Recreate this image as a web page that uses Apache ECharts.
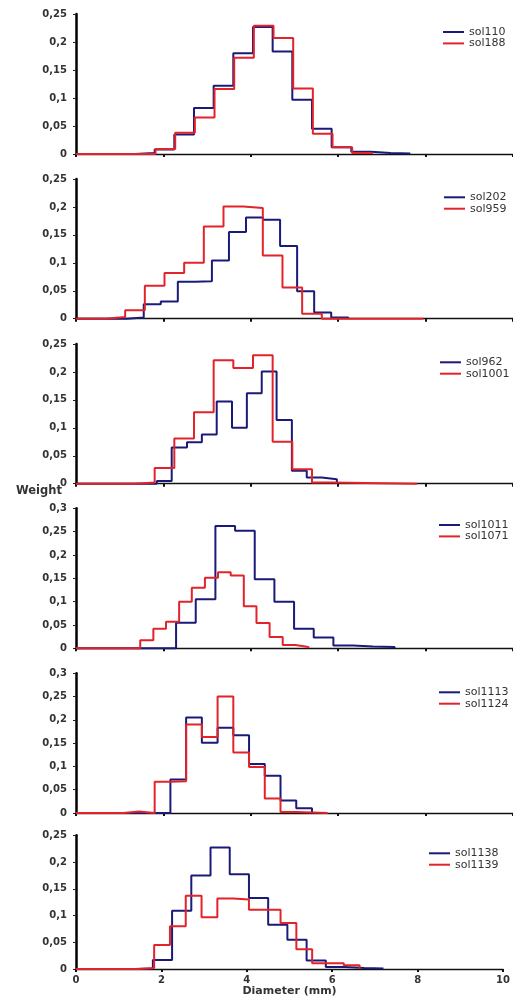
<!DOCTYPE html>
<html>
<head>
<meta charset="utf-8">
<script src="https://cdn.jsdelivr.net/npm/echarts@6/dist/echarts.min.js"></script>
<style>
  html, body { margin: 0; background: #fff; }
  #chart { width: 513px; height: 998px; }
</style>
</head>
<body>
<div id="chart"></div>
<script>
// bin edges (mm) and weight per bin, one pair per sample
const sol110Edges = [0, 1.35, 1.8, 2.25, 2.7, 3.15, 3.6, 4.05, 4.5, 4.95, 5.4, 5.85, 6.3, 6.75, 7.2, 7.65];
const sol110Weights = [0, 0.002, 0.008, 0.035, 0.082, 0.122, 0.18, 0.227, 0.183, 0.097, 0.045, 0.012, 0.004, 0.002, 0.001];
const sol188Edges = [0, 1.82, 2.27, 2.72, 3.17, 3.62, 4.07, 4.52, 4.97, 5.42, 5.87, 6.32, 6.77];
const sol188Weights = [0, 0.009, 0.038, 0.065, 0.116, 0.172, 0.229, 0.207, 0.117, 0.036, 0.012, 0.002];

const sol202Edges = [0, 1.16, 1.55, 1.94, 2.33, 2.72, 3.11, 3.5, 3.89, 4.28, 4.67, 5.06, 5.45, 5.84, 6.23];
const sol202Weights = [0, 0.002, 0.026, 0.031, 0.066, 0.067, 0.104, 0.155, 0.181, 0.177, 0.13, 0.049, 0.011, 0.002];
const sol959Edges = [0, 0.675, 1.125, 1.575, 2.025, 2.475, 2.925, 3.375, 3.825, 4.275, 4.725, 5.175, 5.625, 7.95];
const sol959Weights = [0, 0.003, 0.015, 0.059, 0.082, 0.1, 0.165, 0.201, 0.198, 0.113, 0.056, 0.009, 0];

const sol962Edges = [0, 1.85, 2.19, 2.54, 2.88, 3.22, 3.57, 3.91, 4.25, 4.59, 4.94, 5.28, 5.62, 5.97];
const sol962Weights = [0, 0.005, 0.065, 0.074, 0.088, 0.147, 0.1, 0.162, 0.201, 0.114, 0.023, 0.011, 0.008];
const sol1001Edges = [0, 1.35, 1.8, 2.25, 2.7, 3.15, 3.6, 4.05, 4.5, 4.95, 5.4, 5.85, 7.8];
const sol1001Weights = [0, 0.002, 0.028, 0.081, 0.128, 0.221, 0.207, 0.23, 0.075, 0.026, 0.002, 0];

const sol1011Edges = [0, 2.29, 2.74, 3.19, 3.64, 4.09, 4.54, 4.99, 5.44, 5.89, 6.34, 6.79, 7.29];
const sol1011Weights = [0, 0.055, 0.105, 0.262, 0.252, 0.148, 0.1, 0.042, 0.023, 0.006, 0.004, 0.003];
const sol1071Edges = [0, 1.47, 1.77, 2.06, 2.36, 2.65, 2.95, 3.25, 3.54, 3.84, 4.13, 4.43, 4.73, 5.02, 5.32];
const sol1071Weights = [0, 0.017, 0.042, 0.057, 0.1, 0.13, 0.151, 0.163, 0.156, 0.09, 0.054, 0.024, 0.007, 0.003];

const sol1113Edges = [0, 2.16, 2.52, 2.88, 3.24, 3.6, 3.96, 4.32, 4.68, 5.04, 5.4];
const sol1113Weights = [0, 0.072, 0.205, 0.151, 0.183, 0.167, 0.105, 0.08, 0.027, 0.01];
const sol1124Edges = [0, 1.08, 1.44, 1.8, 2.16, 2.52, 2.88, 3.24, 3.6, 3.96, 4.32, 4.68, 5.04, 5.4, 5.76];
const sol1124Weights = [0, 0.003, 0, 0.067, 0.068, 0.19, 0.163, 0.25, 0.13, 0.099, 0.031, 0.002, 0.001, 0];

const sol1138Edges = [0, 1.35, 1.8, 2.25, 2.7, 3.15, 3.6, 4.05, 4.5, 4.95, 5.4, 5.85, 6.3, 6.75, 7.2];
const sol1138Weights = [0, 0.001, 0.017, 0.109, 0.175, 0.227, 0.177, 0.133, 0.083, 0.055, 0.016, 0.004, 0.002, 0.001];
const sol1139Edges = [0, 1.46, 1.83, 2.2, 2.57, 2.94, 3.31, 3.68, 4.05, 4.42, 4.79, 5.16, 5.53, 5.9, 6.27, 6.64];
const sol1139Weights = [0, 0.002, 0.045, 0.08, 0.137, 0.097, 0.132, 0.13, 0.111, 0.111, 0.086, 0.037, 0.011, 0.011, 0.007];

const xTicks = [0, 2, 4, 6, 8, 10];
const yMaxes = [0.25, 0.25, 0.25, 0.3, 0.3, 0.25];

const panels = [
  [["sol110", sol110Edges, sol110Weights], ["sol188", sol188Edges, sol188Weights]],
  [["sol202", sol202Edges, sol202Weights], ["sol959", sol959Edges, sol959Weights]],
  [["sol962", sol962Edges, sol962Weights], ["sol1001", sol1001Edges, sol1001Weights]],
  [["sol1011", sol1011Edges, sol1011Weights], ["sol1071", sol1071Edges, sol1071Weights]],
  [["sol1113", sol1113Edges, sol1113Weights], ["sol1124", sol1124Edges, sol1124Weights]],
  [["sol1138", sol1138Edges, sol1138Weights], ["sol1139", sol1139Edges, sol1139Weights]],
];

// layout (pixels)
const gridTops = [14, 179, 344, 508.3, 673.3, 835.3];
const gridHeights = [140, 139.7, 139.7, 140, 139.7, 135.4];
const gridWidths = [442.5, 442.5, 442.5, 442.5, 442.5, 433];
const legendTops = [26.3, 191.6, 356.6, 519.3, 686.6, 847.6];
const legendLefts = [443, 444, 440, 439, 439, 429];

const colors = ["#1a1a78", "#e3232a"];
const font = "DejaVu Sans";

function steps(edges, weights) {
  const pts = weights.map((w, i) => [edges[i], w]);
  pts.push([edges[edges.length - 1], 0]);
  return pts;
}

const last = panels.length - 1;
const option = {
  animation: false,
  backgroundColor: "#fff",
  grid: panels.map((p, i) => ({
    left: 76, top: gridTops[i], width: gridWidths[i], height: gridHeights[i]
  })),
  xAxis: panels.map((p, i) => ({
    type: "value",
    gridIndex: i,
    min: xTicks[0],
    max: xTicks[xTicks.length - 1],
    interval: xTicks[1] - xTicks[0],
    axisLine: { lineStyle: { color: "#111", width: 1.3 } },
    axisTick: { show: true, length: 3, lineStyle: { color: "#111", width: 2 } },
    axisLabel: {
      show: i === last, margin: 6,
      fontFamily: font, fontSize: 10, fontWeight: "bold", color: "#333"
    },
    splitLine: { show: false },
    name: i === last ? "Diameter (mm)" : "",
    nameLocation: "middle",
    nameGap: 16,
    nameTextStyle: { fontFamily: font, fontSize: 11, fontWeight: "bold", color: "#333" }
  })),
  yAxis: panels.map((p, i) => ({
    type: "value",
    gridIndex: i,
    min: 0,
    max: yMaxes[i],
    interval: 0.05,
    axisLine: { show: true, lineStyle: { color: "#000", width: 2.5 } },
    axisTick: { show: true, length: 3, lineStyle: { color: "#222" } },
    axisLabel: {
      margin: 9,
      fontFamily: font, fontSize: 10, fontWeight: "bold", color: "#333",
      formatter: (v) => String(+v.toFixed(2)).replace(".", ",")
    },
    splitLine: { show: false }
  })),
  legend: panels.map((p, i) => ({
    orient: "vertical",
    left: legendLefts[i],
    top: legendTops[i],
    padding: 0,
    itemGap: 0,
    itemWidth: 21,
    itemHeight: 2,
    icon: "rect",
    textStyle: { fontFamily: font, fontSize: 11, color: "#333", lineHeight: 11.4 },
    data: p.map((s) => s[0])
  })),
  graphic: [{
    type: "text",
    left: 16,
    top: 485,
    style: { text: "Weight", fontFamily: font, fontSize: 11.5, fontWeight: "bold", fill: "#333" }
  }],
  series: panels.flatMap((p, i) => p.map((s, j) => ({
    name: s[0],
    type: "line",
    xAxisIndex: i,
    yAxisIndex: i,
    step: "end",
    symbol: "none",
    clip: false,
    color: colors[j],
    lineStyle: { color: colors[j], width: 2 },
    data: steps(s[1], s[2])
  })))
};

const chart = echarts.init(document.getElementById("chart"), null, { renderer: "canvas" });
chart.setOption(option);
</script>
</body>
</html>
